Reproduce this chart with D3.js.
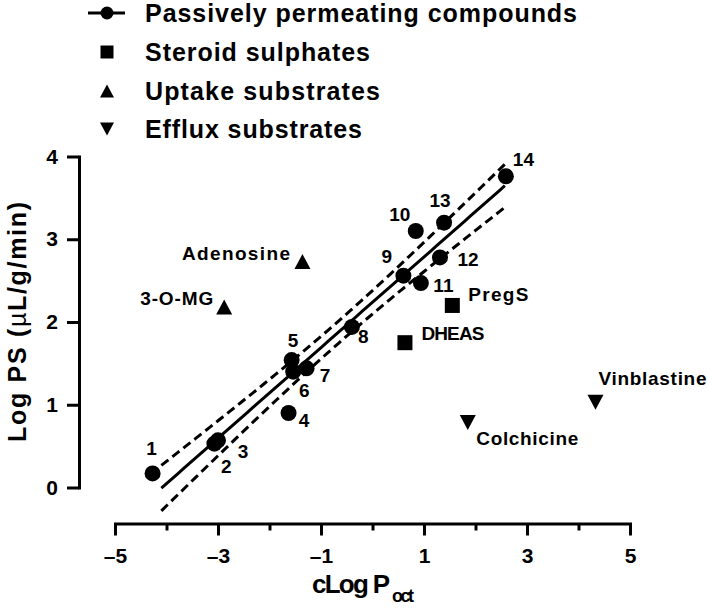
<!DOCTYPE html>
<html>
<head>
<meta charset="utf-8">
<script src="https://cdn.jsdelivr.net/npm/d3@7"></script>
<style>
  html, body { margin: 0; padding: 0; background: #fff; }
  svg { display: block; font-family: "Liberation Sans", Arial, Helvetica, sans-serif; font-weight: bold; }
</style>
</head>
<body>
<svg id="chart" width="709" height="610"></svg>
<script>
// ---------------- Data ----------------
const passiveIds = ["1","2","3","4","5","6","7","8","9","10","11","12","13","14"];
const passiveX = [-4.27, -3.07, -3.00, -1.63, -1.57, -1.54, -1.28, -0.40, 0.60, 0.84, 0.94, 1.31, 1.39, 2.59];
const passiveY = [0.17, 0.53, 0.57, 0.90, 1.54, 1.40, 1.44, 1.94, 2.56, 3.10, 2.47, 2.78, 3.20, 3.76];

const steroidNames = ["PregS", "DHEAS"];
const steroidX = [1.55, 0.63];
const steroidY = [2.20, 1.75];

const uptakeNames = ["Adenosine", "3-O-MG"];
const uptakeX = [-1.36, -2.88];
const uptakeY = [2.73, 2.18];

const effluxNames = ["Vinblastine", "Colchicine"];
const effluxX = [4.33, 1.85];
const effluxY = [1.03, 0.785];

// x-range over which the fitted line and its 95% band are drawn
const fitXRange = [-4.1, 2.57];

const legendLabels = ["Passively permeating compounds", "Steroid sulphates", "Uptake substrates", "Efflux substrates"];
const xMajorTicks = [-5, -3, -1, 1, 3, 5];
const xMinorTicks = [-4, -2, 0, 2, 4];
const yTicks = [0, 1, 2, 3, 4];

// ---------------- Layout (not data) ----------------
// label offsets relative to the marker, in px: [dx, dy(baseline)]
const passiveLabelOffsets = [[-1,-18.5],[12,29.5],[25,18],[15.5,14],[1.5,-13],[11,25.5],[18.5,14],[11.5,16.5],[-16.5,-12.5],[-16,-9.5],[22.5,8.5],[28,9],[-4,-16],[17.5,-10]];
const steroidLabelLayout = [{dx:16, dy:-4, anchor:"start", w:60}, {dx:16.5, dy:-3, anchor:"start", w:63}];
const uptakeLabelLayout = [{dx:-12.5, dy:-1.5, anchor:"end", w:108}, {dx:-11, dy:-2, anchor:"end", w:73}];
const effluxLabelLayout = [{dx:3, dy:-17.5, anchor:"start", w:108}, {dx:8.5, dy:22.5, anchor:"start", w:102}];

const svg = d3.select("#chart");

const x = d3.scaleLinear().domain([-5, 5]).range([115, 630]);
const y = d3.scaleLinear().domain([0, 4]).range([487.5, 156.5]);
const xAxisY = 523.5;
const yAxisX = 79;

// ---------------- Axes ----------------
const fmt = d => (d < 0 ? "\u2013" + Math.abs(d) : String(d));

const gy = svg.append("g").attr("transform", `translate(${yAxisX},0)`)
  .call(d3.axisLeft(y).tickValues(yTicks).tickSize(12).tickSizeOuter(0).tickPadding(9).tickFormat(fmt));

const gxMinor = svg.append("g").attr("transform", `translate(0,${xAxisY})`)
  .call(d3.axisBottom(x).tickValues(xMinorTicks).tickSize(7).tickSizeOuter(0).tickFormat(""));
gxMinor.select(".domain").remove();

const gx = svg.append("g").attr("transform", `translate(0,${xAxisY})`)
  .call(d3.axisBottom(x).tickValues(xMajorTicks).tickSize(12).tickSizeOuter(0).tickPadding(13).tickFormat(fmt));

[gx, gy, gxMinor].forEach(g => {
  g.selectAll(".domain").attr("stroke", "#000").attr("stroke-width", 3).attr("stroke-linecap", "square");
  g.selectAll(".tick line").attr("stroke", "#000").attr("stroke-width", 3);
  g.selectAll(".tick text").attr("fill", "#000").style("font-size", "21px").style("font-weight", "bold")
    .style("font-family", '"Liberation Sans", Arial, sans-serif');
});

// Axis titles
const yTitle = svg.append("text")
  .attr("transform", "translate(26,322) rotate(-90)")
  .attr("text-anchor", "middle")
  .style("font-size", "25px")
  .attr("textLength", 240);
yTitle.append("tspan").text("Log PS (");
yTitle.append("tspan").style("font-weight", "normal").text("\u00B5");
yTitle.append("tspan").text("L/g/min)");

svg.append("text").attr("x", 312).attr("y", 593).style("font-size", "26px")
  .attr("textLength", 78).text("cLog P");
svg.append("text").attr("x", 392).attr("y", 602).style("font-size", "18px")
  .attr("textLength", 22).text("oct");

// ---------------- Regression with 95% confidence band ----------------
const n = passiveX.length;
const mx = d3.mean(passiveX), my = d3.mean(passiveY);
const sxx = d3.sum(passiveX, v => (v - mx) * (v - mx));
const sxy = d3.sum(passiveX.map((v, i) => (v - mx) * (passiveY[i] - my)));
const slope = sxy / sxx;
const icpt = my - slope * mx;
const ssr = d3.sum(passiveX.map((v, i) => Math.pow(passiveY[i] - (icpt + slope * v), 2)));
const s = Math.sqrt(ssr / (n - 2));
const tCrit = 2.179; // t(0.975, df=12)
const [xmin, xmax] = fitXRange;
const xs = d3.range(0, 61).map(i => xmin + (xmax - xmin) * i / 60);
const half = v => tCrit * s * Math.sqrt(1 / n + (v - mx) * (v - mx) / sxx);

const line = d3.line().x(d => x(d[0])).y(d => y(d[1]));
svg.append("path").attr("d", line(xs.map(v => [v, icpt + slope * v])))
  .attr("fill", "none").attr("stroke", "#000").attr("stroke-width", 3);
[1, -1].forEach(sign => {
  svg.append("path").attr("d", line(xs.map(v => [v, icpt + slope * v + sign * half(v)])))
    .attr("fill", "none").attr("stroke", "#000").attr("stroke-width", 3)
    .attr("stroke-dasharray", "9,5");
});

// ---------------- Markers ----------------
const sq = 15, triW = 16, triH = 15;
const upTri = (cx, cy, w, h) => `M${cx},${cy - h / 2}L${cx + w / 2},${cy + h / 2}L${cx - w / 2},${cy + h / 2}Z`;
const downTri = (cx, cy, w, h) => `M${cx},${cy + h / 2}L${cx + w / 2},${cy - h / 2}L${cx - w / 2},${cy - h / 2}Z`;

svg.append("g").selectAll("circle").data(passiveX).join("circle")
  .attr("cx", (d) => x(d)).attr("cy", (d, i) => y(passiveY[i])).attr("r", 8).attr("fill", "#000");

svg.append("g").selectAll("rect").data(steroidX).join("rect")
  .attr("x", d => x(d) - sq / 2).attr("y", (d, i) => y(steroidY[i]) - sq / 2)
  .attr("width", sq).attr("height", sq).attr("fill", "#000");

svg.append("g").selectAll("path").data(uptakeX).join("path")
  .attr("d", (d, i) => upTri(x(d), y(uptakeY[i]), triW, triH)).attr("fill", "#000");

svg.append("g").selectAll("path").data(effluxX).join("path")
  .attr("d", (d, i) => downTri(x(d), y(effluxY[i]), triW, triH)).attr("fill", "#000");

// ---------------- Point labels ----------------
svg.append("g").selectAll("text").data(passiveIds).join("text")
  .attr("x", (d, i) => x(passiveX[i]) + passiveLabelOffsets[i][0])
  .attr("y", (d, i) => y(passiveY[i]) + passiveLabelOffsets[i][1])
  .attr("text-anchor", "middle").style("font-size", "19px").text(d => d);

function nameLabels(names, xv, yv, layout) {
  svg.append("g").selectAll("text").data(names).join("text")
    .attr("x", (d, i) => x(xv[i]) + layout[i].dx)
    .attr("y", (d, i) => y(yv[i]) + layout[i].dy)
    .attr("text-anchor", (d, i) => layout[i].anchor)
    .attr("textLength", (d, i) => layout[i].w)
    .style("font-size", "19px").text(d => d);
}
nameLabels(steroidNames, steroidX, steroidY, steroidLabelLayout);
nameLabels(uptakeNames, uptakeX, uptakeY, uptakeLabelLayout);
nameLabels(effluxNames, effluxX, effluxY, effluxLabelLayout);

// ---------------- Legend ----------------
const legRowY = [13, 52, 91, 129];
const legTextW = [432, 225, 235, 217];
const legMarkX = 107;
const leg = svg.append("g");
leg.append("line").attr("x1", 88).attr("x2", 125).attr("y1", legRowY[0]).attr("y2", legRowY[0])
  .attr("stroke", "#000").attr("stroke-width", 3);
leg.append("circle").attr("cx", legMarkX).attr("cy", legRowY[0]).attr("r", 6.5).attr("fill", "#000");
leg.append("rect").attr("x", legMarkX - 6.5).attr("y", legRowY[1] - 6.5).attr("width", 13).attr("height", 13).attr("fill", "#000");
leg.append("path").attr("d", upTri(legMarkX, legRowY[2], 14, 13)).attr("fill", "#000");
leg.append("path").attr("d", downTri(legMarkX, legRowY[3], 14, 13)).attr("fill", "#000");
leg.selectAll("text").data(legendLabels).join("text")
  .attr("x", 145).attr("y", (d, i) => legRowY[i] + 9)
  .attr("textLength", (d, i) => legTextW[i])
  .style("font-size", "25px").text(d => d);
</script>
</body>
</html>
